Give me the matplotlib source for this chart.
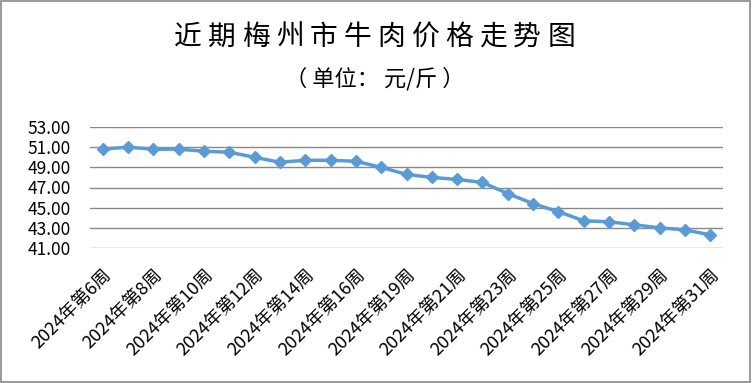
import matplotlib
matplotlib.use("Agg")
import matplotlib.pyplot as plt
from matplotlib.patches import Rectangle

plt.rcParams['font.family'] = ['Noto Sans CJK SC', 'DejaVu Sans']

weeks = [6, 7, 8, 9, 10, 11, 12, 13, 14, 15, 16, 18, 19, 20, 21, 22, 23, 24, 25, 26, 27, 28, 29, 30, 31]
categories = [f"2024年第{w}周" for w in weeks]
prices = [50.8, 51.0, 50.8, 50.8, 50.6, 50.5, 50.0, 49.5, 49.7, 49.7, 49.6, 49.0, 48.3,
          48.0, 47.8, 47.5, 46.4, 45.4, 44.6, 43.7, 43.6, 43.3, 43.0, 42.8, 42.3]
yticks = [41, 43, 45, 47, 49, 51, 53]
title = "近期梅州市牛肉价格走势图"
subtitle = "（ 单位： 元/斤 ）"

fig = plt.figure(figsize=(7.52, 3.83), dpi=100)
ax = fig.add_axes([90/752, 1-248/383, 633/752, 121/383])

x = list(range(len(categories)))
ax.plot(x, prices, color='#5B9BD5', linewidth=2.5, marker='D', markersize=6,
        markerfacecolor='#5B9BD5', markeredgecolor='#5B9BD5', zorder=3)

ax.set_xlim(-0.5, len(categories) - 0.5)
ax.set_ylim(41, 53)
ax.set_yticks(yticks)
ax.set_yticklabels([f"{v:.2f}" for v in yticks], fontsize=12.5, color='#000000')
ax.yaxis.grid(True, color='#898989', linewidth=1)
ax.set_axisbelow(True)
for s in ax.spines.values():
    s.set_visible(False)
ax.tick_params(axis='y', length=0, pad=14)
ax.tick_params(axis='x', length=0, pad=13)
ax.set_xticks(x[::2])
ax.set_xticklabels(categories[::2], rotation=45, ha='right', rotation_mode='anchor',
                   fontsize=13, color='#000000')

# title with wide letter spacing
n = len(title)
x0, x1 = 188/752, 561/752
for i, ch in enumerate(title):
    fig.text(x0 + (x1 - x0) * i / (n - 1), 1-37/383, ch, ha='center', va='center', fontsize=20)
fig.text(375/752, 1-79/383, subtitle, ha='center', va='center', fontsize=16)

fig.patches.append(Rectangle((0.001, 0.002), 0.997, 0.995, transform=fig.transFigure,
                             fill=False, edgecolor='#898989', linewidth=1.2))

fig.savefig("out.png", dpi=100)
